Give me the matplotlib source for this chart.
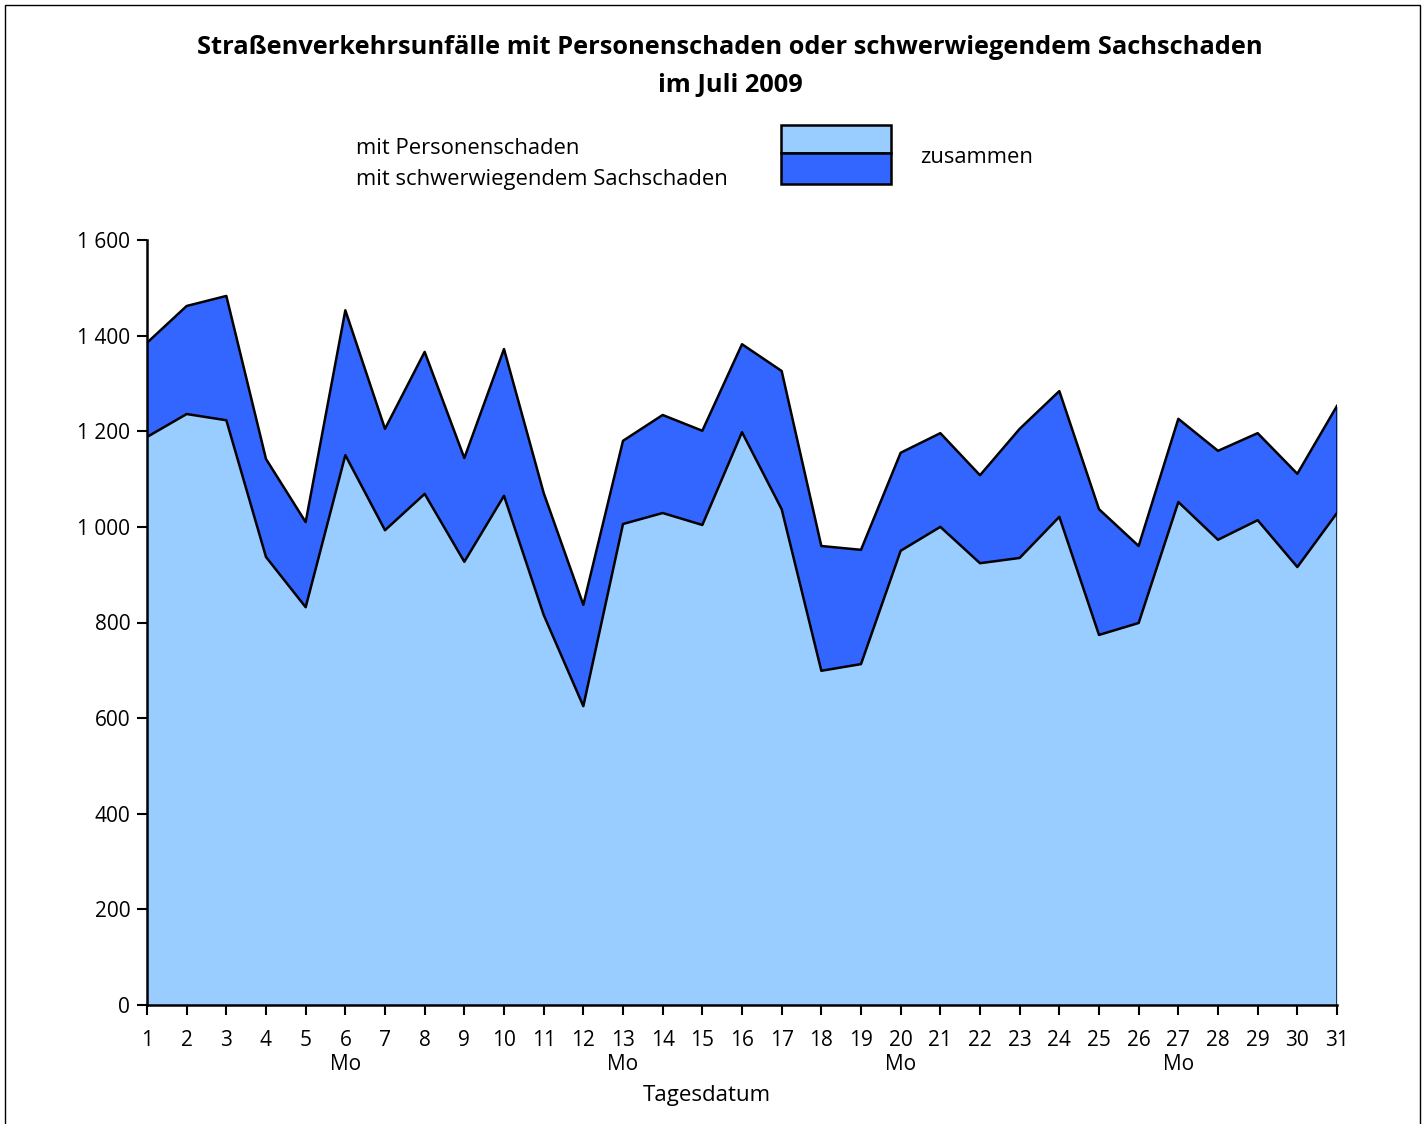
import matplotlib
matplotlib.use("Agg")
import matplotlib.pyplot as plt
from matplotlib.patches import Rectangle

plt.rcParams['font.family'] = ['Open Sans', 'DejaVu Sans']

days = list(range(1, 32))
personen = [1188, 1236, 1223, 937, 832, 1150, 993, 1069, 927, 1065, 816, 625,
            1006, 1029, 1004, 1198, 1037, 699, 713, 950, 1000, 924, 935, 1021,
            774, 799, 1052, 973, 1014, 916, 1029]
zusammen = [1385, 1462, 1483, 1142, 1010, 1453, 1205, 1366, 1144, 1372, 1071, 837,
            1180, 1234, 1201, 1382, 1326, 960, 952, 1155, 1196, 1108, 1205, 1284,
            1037, 960, 1226, 1159, 1196, 1111, 1253]
monday_days = [6, 13, 20, 27]
yticks = [0, 200, 400, 600, 800, 1000, 1200, 1400, 1600]
ytick_labels = ["0", "200", "400", "600", "800", "1 000", "1 200", "1 400", "1 600"]

light = "#99CCFF"
dark = "#3366FF"

W, H = 1425, 1124
fig = plt.figure(figsize=(W / 100, H / 100), dpi=100)
ax = fig.add_axes([147 / W, (H - 1005) / H, (1337 - 147) / W, (1005 - 240) / H])

ax.fill_between(days, 0, personen, color=light, lw=0)
ax.fill_between(days, personen, zusammen, color=dark, lw=0)
ax.plot(days, personen, color="black", lw=1.8)
ax.plot(days, zusammen, color="black", lw=1.8)
ax.vlines([days[-1]], 0, zusammen[-1], color="black", lw=1.8)

ax.set_xlim(1, 31)
ax.set_ylim(0, 1600)
ax.set_xticks(days)
ax.set_xticklabels([str(d) for d in days], fontsize=15)
ax.set_yticks(yticks)
ax.set_yticklabels(ytick_labels, fontsize=15)
for s in ["top", "right"]:
    ax.spines[s].set_visible(False)
for s in ["left", "bottom"]:
    ax.spines[s].set_linewidth(1.8)
ax.tick_params(axis="x", direction="out", length=7, width=1.5, pad=11)
ax.tick_params(axis="y", direction="out", length=7, width=1.5, pad=5)

for d in monday_days:
    fig.text(ax.transData.transform((d, 0))[0] / W, 1 - 1064 / H, "Mo",
             ha="center", va="center", fontsize=15)
fig.text(707 / W, 1 - 1096 / H, "Tagesdatum", ha="center", va="center", fontsize=16)

fig.text(730 / W, 1 - 48 / H, "Straßenverkehrsunfälle mit Personenschaden oder schwerwiegendem Sachschaden",
         ha="center", va="center", fontsize=18.3, fontweight="bold")
fig.text(730 / W, 1 - 85 / H, "im Juli 2009", ha="center", va="center", fontsize=18.3, fontweight="bold")

# legend
fig.text(356 / W, 1 - 148 / H, "mit Personenschaden", ha="left", va="center", fontsize=15.8)
fig.text(356 / W, 1 - 179 / H, "mit schwerwiegendem Sachschaden", ha="left", va="center", fontsize=15.8)
fig.text(920 / W, 1 - 158 / H, "zusammen", ha="left", va="center", fontsize=15.8)
fig.add_artist(Rectangle((781 / W, 1 - 153 / H), 110 / W, 28 / H, transform=fig.transFigure,
                         facecolor=light, edgecolor="black", lw=1.8))
fig.add_artist(Rectangle((781 / W, 1 - 184 / H), 110 / W, 31 / H, transform=fig.transFigure,
                         facecolor=dark, edgecolor="black", lw=1.8))

# outer frame
fig.add_artist(Rectangle((5 / W, -0.01), 1415 / W, 1 - 5 / H + 0.01, transform=fig.transFigure,
                         facecolor="none", edgecolor="black", lw=1.0))

fig.savefig("out.png", dpi=100)
